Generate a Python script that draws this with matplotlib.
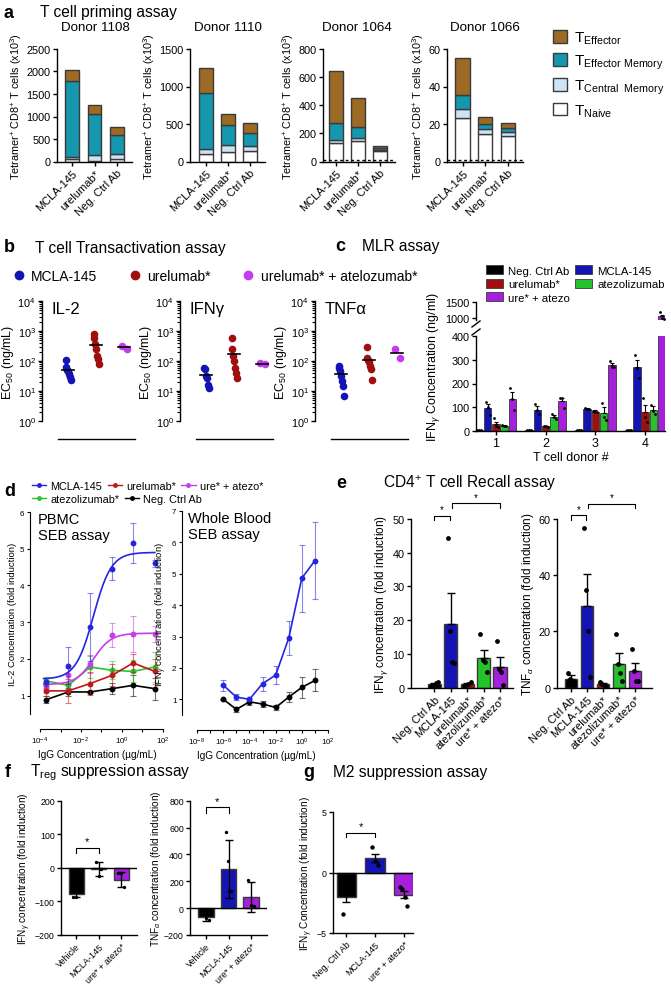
import numpy as np
import matplotlib
matplotlib.use("Agg")
import matplotlib.pyplot as plt
from matplotlib.patches import Patch
from matplotlib.lines import Line2D
from matplotlib.ticker import NullFormatter

plt.rcParams['font.family'] = ['Liberation Sans', 'DejaVu Sans']
plt.rcParams['mathtext.fontset'] = 'custom'
plt.rcParams['mathtext.rm'] = 'Liberation Sans'
plt.rcParams['mathtext.it'] = 'Liberation Sans:italic'
plt.rcParams['mathtext.bf'] = 'Liberation Sans:bold'
plt.rcParams['axes.linewidth'] = 1.0

# ---------------- data ----------------
# a: T cell priming (x10^3 cells), rows = donors, cols = MCLA-145, urelumab*, Neg. Ctrl Ab
a_donors = ["Donor 1108", "Donor 1110", "Donor 1064", "Donor 1066"]
a_groups = ["MCLA-145", "urelumab*", "Neg. Ctrl Ab"]
a_naive = [[60, 20, 60], [98, 125, 143], [131, 148, 72], [23.3, 14.6, 13.4]]
a_cm = [[50, 120, 100], [67, 90, 67], [24, 19, 12], [4.9, 2.7, 2.5]]
a_em = [[1680, 920, 430], [748, 269, 170], [119, 79, 9], [7.1, 2.6, 2.1]]
a_eff = [[240, 190, 170], [332, 156, 135], [370, 203, 17], [19.7, 3.9, 2.3]]
a_ymax = [2500, 1500, 800, 60]
a_ystep = [500, 500, 200, 20]
a_lod = [None, None, 8, 1]

# b: transactivation EC50 (ng/mL)
b_names = ["IL-2", "IFNγ", "TNFα"]
b_mcla = [[105, 62, 52, 45, 38, 30, 24], [60, 53, 32, 28, 16, 13], [68, 60, 46, 32, 22, 15, 7]]
b_urel = [[770, 600, 360, 245, 147, 113, 81], [600, 245, 150, 100, 57, 41, 28],
          [300, 130, 110, 90, 70, 55, 23]]
b_combo = [[316, 258], [88, 77], [245, 130]]

# c: MLR assay, IFNg ng/ml per T cell donor
c_donors = [1, 2, 3, 4]
c_series = ["Neg. Ctrl Ab", "MCLA-145", "urelumab*", "atezolizumab", "ure* + atezo"]
c_mean = [[3, 3, 5, 3], [97, 90, 93, 270], [30, 20, 82, 80], [22, 60, 75, 88], [135, 125, 278, 1050]]
c_err = [[1, 1, 1, 1], [15, 15, 3, 28], [10, 3, 5, 28], [3, 8, 25, 18], [28, 15, 10, 60]]
c_pts = [
    [[3, 3, 3], [3, 3, 3], [5, 5, 5], [3, 3, 3]],
    [[123, 100, 68], [112, 88, 70], [95, 93, 91], [320, 265, 225]],
    [[55, 20, 15], [22, 20, 18], [85, 82, 79], [140, 60, 40]],
    [[25, 20, 21], [70, 60, 50], [120, 60, 45], [110, 85, 70]],
    [[180, 135, 90], [140, 140, 95], [295, 270, 268], [1180, 1010, 960]],
]

# d: SEB assays (fold induction)
d_pbmc_x = [2e-4, 2.4e-3, 0.028, 0.32, 3.5, 40]
d_pbmc_mcla = [1.37, 1.82, 2.86, 4.46, 5.16, 4.60]
d_pbmc_mcla_err = [0.1, 0.5, 0.93, 0.31, 0.55, 0.1]
d_pbmc_urel = [1.13, 1.13, 1.33, 1.55, 1.89, 1.66]
d_pbmc_urel_err = [0.15, 0.32, 0.3, 0.3, 0.25, 0.35]
d_pbmc_combo = [1.22, 1.55, 1.87, 2.66, 2.68, 2.67]
d_pbmc_combo_err = [0.12, 0.2, 0.25, 0.33, 0.5, 0.22]
d_pbmc_atezo = [1.40, 1.28, 1.78, 1.69, 1.66, 1.78]
d_pbmc_atezo_err = [0.1, 0.1, 0.3, 0.25, 0.3, 0.4]
d_pbmc_neg = [0.89, 1.10, 1.10, 1.19, 1.28, 1.19]
d_pbmc_neg_err = [0.1, 0.1, 0.03, 0.15, 0.28, 0.3]
# 4PL fit parameters (bottom, top, logEC50, hill)
d_fit_mcla = (1.45, 4.9, -1.39, 1.0)
d_fit_combo = (1.30, 2.7, -1.39, 1.0)

d_wb_x = [1e-6, 1e-5, 1e-4, 1e-3, 1e-2, 1e-1, 1, 10]
d_wb_mcla = [1.45, 1.07, 1.0, 1.5, 1.77, 2.95, 4.86, 5.42]
d_wb_mcla_err = [0.17, 0.1, 0.05, 0.22, 0.28, 0.55, 1.07, 1.23]
d_wb_neg = [1.0, 0.68, 0.92, 0.85, 0.74, 1.07, 1.38, 1.6]
d_wb_neg_err = [0.02, 0.08, 0.1, 0.1, 0.07, 0.17, 0.33, 0.35]

# e: CD4 recall assay
e_groups = ["Neg. Ctrl Ab", "MCLA-145", "urelumab*", "atezolizumab*", "ure* + atezo*"]
e_ifn_mean = [1.0, 19.0, 1.0, 8.8, 6.2]
e_ifn_err = [0.3, 9.0, 0.4, 2.5, 2.9]
e_ifn_pts = [[0.5, 0.8, 1.3, 1.8], [44.5, 16.8, 7.6, 7.4], [0.5, 0.8, 1.0, 1.8],
             [15.8, 8.2, 7.6, 4.6], [13.9, 5.4, 4.6, 0.8]]
e_tnf_mean = [3.0, 28.9, 1.2, 8.5, 6.0]
e_tnf_err = [1.6, 11.4, 0.5, 3.9, 2.9]
e_tnf_pts = [[5.4, 3.0, 2.0, 1.6], [56.9, 34.6, 20.2, 3.9], [2.0, 1.2, 0.8, 0.6],
             [19.2, 8.3, 5.4, 2.5], [13.6, 6.0, 2.5, 2.5]]

# f: Treg suppression
f_groups = ["Vehicle", "MCLA-145", "ure* + atezo*"]
f_ifn_mean = [-78, -3, -35]
f_ifn_err = [9, 20, 22]
f_ifn_pts = [[-86, -88, -60], [17, -23, -3], [-15, -15, -57]]
f_tnf_mean = [-66, 290, 83]
f_tnf_err = [27, 215, 110]
f_tnf_pts = [[-40, -70, -88], [567, 351, 130, 130], [210, 25, 15]]

# g: M2 suppression
g_groups = ["Neg. Ctrl Ab", "MCLA-145", "ure* + atezo*"]
g_mean = [-2.05, 1.22, -1.83]
g_err = [0.35, 0.33, 0.27]
g_pts = [[-3.4, -1.5, -1.25], [2.1, 0.95, 0.6], [-1.2, -1.4, -2.0, -2.8]]

# ---------------- colours ----------------
C_EFF = '#9C6A25'
C_EM = '#1597AD'
C_CM = '#CFE3F7'
C_NAIVE = 'white'
BLUE = '#1414B4'
LBLUE = '#2525E0'
RED = '#A00E0E'
GREEN = '#25C22B'
PURPLE = '#A61FDF'
MAGENTA = '#C43CF0'
EDGE = '#3a3a3a'

W, H = 671, 987
fig = plt.figure(figsize=(W / 100, H / 100), dpi=100)


def add_ax(x0, y0, x1, y1):
    return fig.add_axes([x0 / W, 1 - y1 / H, (x1 - x0) / W, (y1 - y0) / H])


def ftext(x, y, s, **kw):
    kw.setdefault('va', 'center')
    fig.text(x / W, 1 - y / H, s, **kw)


def style(ax, fs=7.5):
    ax.spines['top'].set_visible(False)
    ax.spines['right'].set_visible(False)
    ax.tick_params(width=1, length=3, labelsize=fs, pad=1.5)


def bracket(ax, x1, x2, y, h, fs=8):
    ax.plot([x1, x1, x2, x2], [y - h, y, y, y - h], color='k', lw=0.8, clip_on=False)
    ax.text((x1 + x2) / 2, y + h * 0.3, '*', ha='center', va='bottom', fontsize=fs, clip_on=False)


def spread(n, w=0.1):
    if n == 1:
        return np.zeros(1)
    return np.linspace(-w, w, n)


TITLE_FS = 11.2

# ---------------- panel a ----------------
ftext(4, 13, 'a', fontsize=13, fontweight='bold')
ftext(40, 13, 'T cell priming assay', fontsize=TITLE_FS)
a_box = [(57, 132, 72, 22.5), (190, 265, 206, 22), (323, 395, 336, 22), (447, 523, 462.5, 22.75)]
a_title_x = [95, 228, 357, 485]
pos = np.arange(3)
for i in range(4):
    x0, x1, c0, sp = a_box[i]
    ax = add_ax(x0, 50, x1, 162.5)
    style(ax, 7.8)
    bottom = np.zeros(3)
    for seg, col in zip([a_naive, a_cm, a_em, a_eff], [C_NAIVE, C_CM, C_EM, C_EFF]):
        v = np.array(seg[i], dtype=float)
        ax.bar(pos, v, bottom=bottom, width=0.62, color=col, edgecolor=EDGE, lw=1)
        bottom += v
    if a_lod[i] is not None:
        ax.axhline(a_lod[i], color='k', ls=(0, (2, 2)), lw=1)
    ax.set_xlim(-(c0 - x0) / sp, (x1 - c0) / sp)
    ax.set_ylim(0, a_ymax[i])
    ax.set_yticks(np.arange(0, a_ymax[i] + 1, a_ystep[i]))
    ax.set_xticks(pos)
    ax.set_xticklabels(a_groups, rotation=45, ha='right', rotation_mode='anchor', fontsize=8)
    ax.set_ylabel('Tetramer$^{+}$ CD8$^{+}$ T cells (x10$^{3}$)', fontsize=7.8, labelpad=2)
    ftext(a_title_x[i], 28, a_donors[i], fontsize=9.6, ha='center')

a_handles = [Patch(facecolor=c, edgecolor=EDGE, lw=1) for c in [C_EFF, C_EM, C_CM, C_NAIVE]]
a_labels = ['T$_{\\mathrm{Effector}}$', 'T$_{\\mathrm{Effector\\ Memory}}$',
            'T$_{\\mathrm{Central\\ \\ Memory}}$', 'T$_{\\mathrm{Naive}}$']
fig.legend(a_handles, a_labels, loc='upper left', bbox_to_anchor=(553 / W, 1 - 31 / H), frameon=False,
           fontsize=11, handlelength=0.9, handleheight=0.9, labelspacing=0.42, handletextpad=0.5,
           borderaxespad=0, borderpad=0)

# ---------------- panel b ----------------
ftext(4, 248, 'b', fontsize=13, fontweight='bold')
ftext(35, 248, 'T cell Transactivation assay', fontsize=TITLE_FS)
for i, x0 in enumerate([42, 180, 315]):
    ax = add_ax(x0, 302, x0 + 98, 422)
    style(ax, 7.8)
    ax.set_yscale('log')
    ax.set_ylim(1, 1e4)
    ax.set_xlim(-0.93, 2.57)
    ax.spines['bottom'].set_position(('outward', 13))
    ax.spines['bottom'].set_bounds(-0.36, 2.4)
    ax.set_xticks([])
    for k, (vals, col) in enumerate(zip([b_mcla[i], b_urel[i], b_combo[i]], [BLUE, RED, MAGENTA])):
        v = np.array(vals)
        ax.scatter(k + spread(len(v), 0.09), v, s=30, color=col, zorder=3, lw=0)
        m = v.mean()
        ax.plot([k - 0.22, k + 0.22], [m, m], color='k', lw=1.2, zorder=4)
    ax.tick_params(axis='y', which='minor', length=2, width=0.8)
    ax.text(0.1, 1.0, b_names[i], transform=ax.transAxes, fontsize=12, va='top')
    ax.set_ylabel('EC$_{50}$ (ng/mL)', fontsize=9, labelpad=1)

b_handles = [Line2D([], [], ls='none', marker='o', ms=6, color=c) for c in [BLUE, RED, MAGENTA]]
fig.legend(b_handles, ['MCLA-145', 'urelumab*', 'urelumab* + atelozumab*'], loc='center left',
           bbox_to_anchor=(13 / W, 1 - 277 / H), ncol=3, frameon=False, fontsize=10,
           handlelength=0.8, handletextpad=0.5, columnspacing=2.3, borderaxespad=0, borderpad=0)

# ---------------- panel c ----------------
ftext(335, 247, 'c', fontsize=13, fontweight='bold')
ftext(362, 247, 'MLR assay', fontsize=TITLE_FS)
c_cols = ['black', BLUE, RED, GREEN, PURPLE]
axl = add_ax(476, 337, 665, 432)
axu = add_ax(476, 303, 665, 321)
for ax in (axl, axu):
    style(ax, 7.8)
    x = np.array(c_donors, dtype=float)
    for k in range(5):
        xs = x + (k - 2) * 0.166
        ax.bar(xs, c_mean[k], width=0.15, color=c_cols[k], edgecolor=EDGE, lw=0.6)
        ax.errorbar(xs, c_mean[k], yerr=[np.zeros(4), c_err[k]], fmt='none', ecolor='k',
                    elinewidth=0.8, capsize=1.5, capthick=0.8)
        for j in range(4):
            ax.scatter(xs[j] + spread(3, 0.04), c_pts[k][j], s=4, color='k', zorder=3, lw=0)
    ax.set_xlim(0.6, 4.4)
axl.set_ylim(0, 400)
axl.set_yticks([0, 100, 200, 300, 400])
axl.set_xticks(c_donors)
axl.tick_params(axis='x', labelsize=9)
axl.set_xlabel('T cell donor #', fontsize=9, labelpad=1)
axu.set_ylim(940, 1500)
axu.set_yticks([1000, 1500])
axu.spines['bottom'].set_visible(False)
axu.set_xticks([])
for yy in (325, 333):
    fig.add_artist(Line2D([472 / W, 480 / W], [1 - (yy + 3) / H, 1 - (yy - 3) / H], color='k', lw=1))
ftext(433, 367, 'IFN$_{γ}$ Concentration (ng/ml)', fontsize=9, rotation=90, ha='center')
c_handles = [Patch(facecolor=c, edgecolor=EDGE, lw=0.6) for c in c_cols]
order = [0, 2, 4, 1, 3]
fig.legend([c_handles[i] for i in order], [c_series[i] for i in order], loc='upper left',
           bbox_to_anchor=(486 / W, 1 - 266 / H), ncol=2, frameon=False, fontsize=8.2,
           handlelength=1.5, handleheight=0.9, handletextpad=0.45, columnspacing=0.45,
           labelspacing=0.25, borderaxespad=0, borderpad=0)

# ---------------- panel d ----------------
ftext(4, 492, 'd', fontsize=13, fontweight='bold')


def four_pl(xx, p):
    b, t, lec, h = p
    return b + (t - b) / (1 + 10 ** ((lec - np.log10(xx)) * h))


axp = add_ax(30, 513, 165, 715)
axw = add_ax(182, 512, 330, 716)
for ax in (axp, axw):
    style(ax, 5.8)
    ax.set_xscale('log')
    ax.tick_params(axis='x', which='minor', length=2, width=0.8)
    ax.tick_params(axis='both', length=2.5, width=0.8)
    ax.spines['bottom'].set_position(('outward', 11))
    ax.spines['left'].set_linewidth(0.8)
    ax.spines['bottom'].set_linewidth(0.8)
    ax.set_xlabel('IgG Concentration (µg/mL)', fontsize=7.2, labelpad=2)

pb = [(d_pbmc_mcla, d_pbmc_mcla_err, LBLUE, d_fit_mcla),
      (d_pbmc_urel, d_pbmc_urel_err, '#C01818', None),
      (d_pbmc_combo, d_pbmc_combo_err, '#C53EE8', d_fit_combo),
      (d_pbmc_atezo, d_pbmc_atezo_err, '#2BC42B', None),
      (d_pbmc_neg, d_pbmc_neg_err, 'black', None)]
xp = np.array(d_pbmc_x)
for y, e, col, fit in pb[::-1]:
    axp.errorbar(xp, y, yerr=e, fmt='none', ecolor=col, alpha=0.55, elinewidth=0.8, capsize=2, capthick=0.8)
    if fit is None:
        axp.plot(xp, y, color=col, lw=1.2, marker='o', ms=3.2)
    else:
        xx = np.logspace(np.log10(1.5e-4), np.log10(40), 200)
        axp.plot(xx, four_pl(xx, fit), color=col, lw=1.2)
        axp.plot(xp, y, color=col, ls='none', marker='o', ms=3.2)
axp.set_xlim(10 ** -4.49, 10 ** 2.1)
axp.spines['bottom'].set_bounds(1e-4, 1e2)
axp.set_xticks([1e-4, 1e-2, 1e0, 1e2])
axp.set_xticks([1e-3, 1e-1, 1e1], minor=True)
axp.set_ylim(0.5, 6)
axp.set_yticks([1, 2, 3, 4, 5, 6])
axp.set_ylabel('IL-2 Concentration (fold induction)', fontsize=6.8, labelpad=2)
axp.text(0.06, 1.0, 'PBMC\nSEB assay', transform=axp.transAxes, fontsize=10.5, va='top', linespacing=1.15)

xw = np.array(d_wb_x)
for y, e, col in [(d_wb_neg, d_wb_neg_err, 'black'), (d_wb_mcla, d_wb_mcla_err, LBLUE)]:
    axw.errorbar(xw, y, yerr=e, fmt='none', ecolor=col, alpha=0.55, elinewidth=0.8, capsize=2, capthick=0.8)
    axw.plot(xw, y, color=col, lw=1.2, marker='o', ms=3.2)
axw.set_xlim(10 ** -9.15, 10 ** 2.15)
axw.spines['bottom'].set_bounds(1e-8, 1e2)
axw.set_xticks([1e-8, 1e-6, 1e-4, 1e-2, 1e0, 1e2])
axw.set_xticks([1e-7, 1e-5, 1e-3, 1e-1, 1e1], minor=True)
axw.set_ylim(0.5, 7)
axw.set_yticks([1, 2, 3, 4, 5, 6, 7])
axw.set_ylabel('IFN$_{γ}$ concentration (fold induction)', fontsize=6.8, labelpad=2)
axw.text(0.04, 1.0, 'Whole Blood\nSEB assay', transform=axw.transAxes, fontsize=10.5, va='top',
         linespacing=1.15)
for ax in (axp, axw):
    ax.xaxis.set_minor_formatter(NullFormatter())

d_names = ['MCLA-145', 'urelumab*', 'ure* + atezo*', 'atezolizumab*', 'Neg. Ctrl Ab']
d_h = [Line2D([], [], color=c, marker='o', ms=2.5, lw=1) for _, _, c, _ in pb]
fig.legend(d_h[:3], d_names[:3], loc='center left', bbox_to_anchor=(32 / W, 1 - 487 / H), ncol=3,
           frameon=False, fontsize=7.8, handlelength=1.3, handletextpad=0.4, columnspacing=0.5,
           borderaxespad=0, borderpad=0)
fig.legend(d_h[3:], d_names[3:], loc='center left', bbox_to_anchor=(32 / W, 1 - 500 / H), ncol=2,
           frameon=False, fontsize=7.8, handlelength=1.3, handletextpad=0.4, columnspacing=0.5,
           borderaxespad=0, borderpad=0)

# ---------------- panel e ----------------
ftext(336, 484, 'e', fontsize=13, fontweight='bold')
ftext(383, 483, 'CD4$^{+}$ T cell Recall assay', fontsize=TITLE_FS)
e_cols = ['black', BLUE, RED, GREEN, PURPLE]
ex = np.arange(5)
for (x0, x1, lo, hi), means, errs, pts, ymax, ystep, lab, br in [
        ((411, 513, -1.43, 4.79), e_ifn_mean, e_ifn_err, e_ifn_pts, 50, 10,
         'IFN$_{γ}$ concentration (fold induction)', (51, 54.6, 1.3)),
        ((557, 652, -0.875, 5.06), e_tnf_mean, e_tnf_err, e_tnf_pts, 60, 20,
         'TNF$_{α}$ concentration (fold induction)', (61.3, 65.4, 1.6))]:
    ax = add_ax(x0, 520, x1, 688.7)
    style(ax, 7.8)
    ax.bar(ex, means, width=0.8, color=e_cols, edgecolor=EDGE, lw=1)
    ax.errorbar(ex, means, yerr=[np.zeros(5), errs], fmt='none', ecolor='k', elinewidth=1,
                capsize=3, capthick=1)
    for k in range(5):
        ax.scatter(k + spread(len(pts[k]), 0.2), pts[k], s=12, color='k', zorder=3, lw=0)
    ax.set_xlim(lo, hi)
    ax.set_ylim(0, ymax)
    ax.set_yticks(np.arange(0, ymax + 1, ystep))
    ax.set_xticks(ex)
    ax.set_xticklabels(e_groups, rotation=45, ha='right', rotation_mode='anchor', fontsize=8)
    ax.set_ylabel(lab, fontsize=8.5, labelpad=2)
    bracket(ax, 0, 0.95, br[0], br[2], 7)
    bracket(ax, 1.05, 4, br[1], br[2], 7)

# ---------------- panel f ----------------
ftext(5, 773, 'f', fontsize=13, fontweight='bold')
ftext(30, 773, 'T$_{\\mathrm{reg}}$ suppression assay', fontsize=TITLE_FS)
f_cols = ['black', BLUE, PURPLE]
fx = np.arange(3)
for (x0, x1, y0, lo, hi), means, errs, pts, ylim, ystep, lab, br in [
        ((61, 137, 801.7, -0.67, 2.71), f_ifn_mean, f_ifn_err, f_ifn_pts, (-200, 200), 100,
         'IFN$_{γ}$ concentration (fold induction)', (60, 15)),
        ((190, 267, 801.7, -0.71, 2.71), f_tnf_mean, f_tnf_err, f_tnf_pts, (-200, 800), 200,
         'TNF$_{α}$ concentration (fold induction)', (750, 45))]:
    ax = add_ax(x0, y0, x1, 936)
    style(ax, 6.3)
    ax.bar(fx, means, width=0.67, color=f_cols, edgecolor=EDGE, lw=1)
    ax.errorbar(fx, means, yerr=errs, fmt='none', ecolor='k', elinewidth=1, capsize=3, capthick=1)
    for k in range(3):
        ax.scatter(k + spread(len(pts[k]), 0.12), pts[k], s=6, color='k', zorder=3, lw=0)
    ax.axhline(0, color='k', lw=1)
    ax.set_xlim(lo, hi)
    ax.set_ylim(*ylim)
    ax.set_yticks(np.arange(ylim[0], ylim[1] + 1, ystep))
    ax.set_xticks(fx)
    ax.set_xticklabels(f_groups, rotation=45, ha='right', rotation_mode='anchor', fontsize=6.5)
    ax.set_ylabel(lab, fontsize=7.2, labelpad=1)
    bracket(ax, 0, 1, br[0], br[1], 8)

# ---------------- panel g ----------------
ftext(303, 773, 'g', fontsize=13, fontweight='bold')
ftext(333, 773, 'M2 suppression assay', fontsize=TITLE_FS)
ax = add_ax(333, 813, 413, 934)
style(ax, 6.3)
gx = np.arange(3)
ax.bar(gx, g_mean, width=0.67, color=f_cols, edgecolor=EDGE, lw=1)
ax.errorbar(gx, g_mean, yerr=g_err, fmt='none', ecolor='k', elinewidth=1, capsize=3, capthick=1)
for k in range(3):
    ax.scatter(k + spread(len(g_pts[k]), 0.12), g_pts[k], s=10, color='k', zorder=3, lw=0)
ax.axhline(0, color='k', lw=1)
ax.set_xlim(-0.47, 2.33)
ax.set_ylim(-5, 5)
ax.set_yticks([-5, 0, 5])
ax.set_xticks(gx)
ax.set_xticklabels(g_groups, rotation=45, ha='right', rotation_mode='anchor', fontsize=6.5)
ax.set_ylabel('IFN$_{γ}$ Concentration (fold induction)', fontsize=7.2, labelpad=1)
bracket(ax, 0, 1, 3.3, 0.4, 8)

fig.savefig('out.png', dpi=100)
